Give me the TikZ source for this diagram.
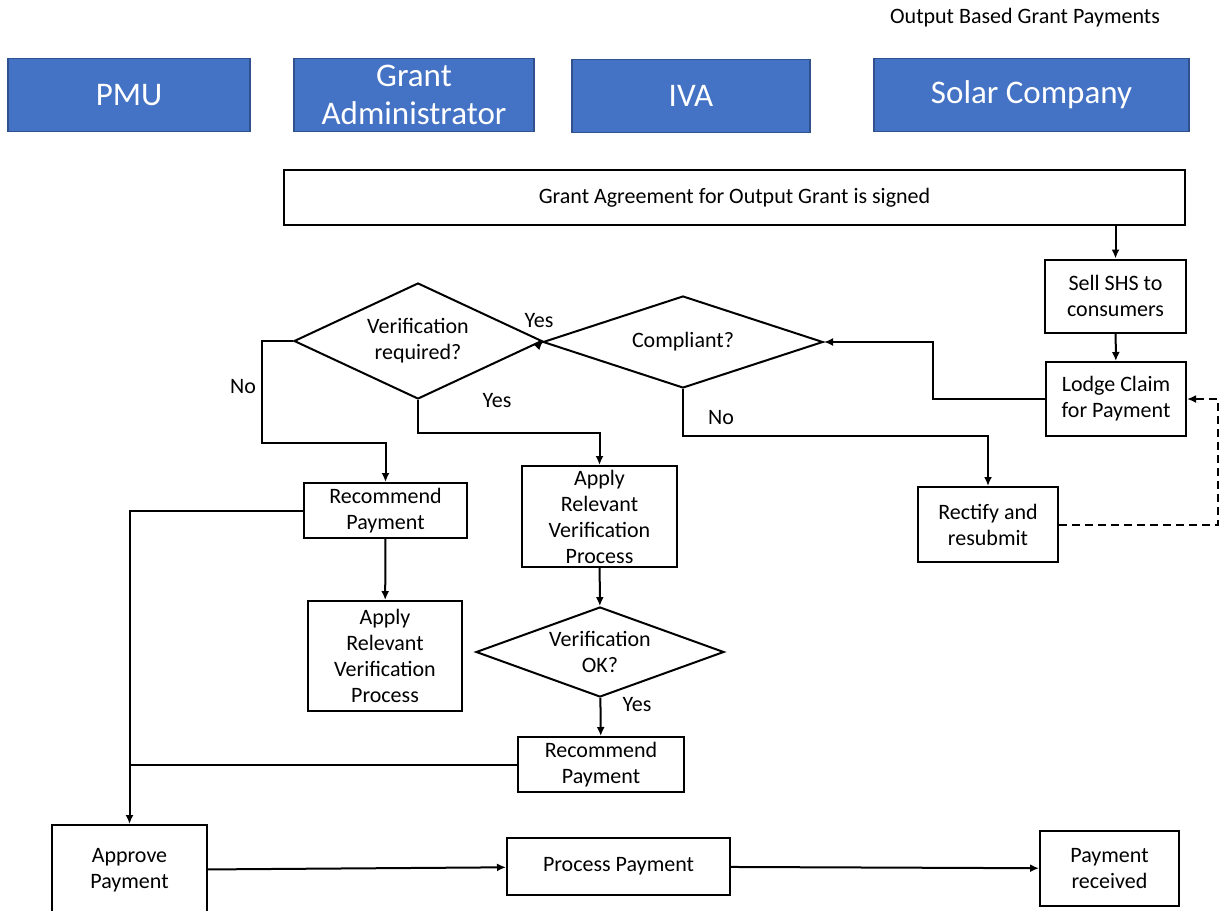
\documentclass[tikz,border=0pt]{standalone}
\usepackage{fontspec}
\setmainfont{Carlito}
\usetikzlibrary{arrows.meta}
\usetikzlibrary{shapes.geometric}
\definecolor{laneblue}{RGB}{68,114,196}
\definecolor{laneedge}{RGB}{47,82,143}

\tikzset{
  lane/.style={fill=laneblue, draw=laneedge, line width=1.5pt, text=white, inner sep=0,
    align=center, font=\fontsize{33}{38}\selectfont},
  box/.style={draw, line width=2pt, inner sep=0, align=center,
    font=\fontsize{22}{26}\selectfont},
  decision/.style={draw, diamond, aspect=3, line width=2pt, inner sep=0, align=center,
    font=\fontsize{22}{26}\selectfont},
  flow/.style={-{Latex[length=9pt,width=8pt]}, line width=2pt},
  link/.style={line width=2pt},
  answer/.style={font=\fontsize{22}{26}\selectfont}
}

\begin{document}
\begin{tikzpicture}[x=1pt, y=-1pt]
\clip (0,0) rectangle (1225,910);

% swim lane headers
\node[font=\fontsize{22}{26}\selectfont] (title) at (1025,18) {Output Based Grant Payments};
\node[lane, minimum width=242, minimum height=73] (pmu) at (129,95) {PMU};
\node[lane, minimum width=240, minimum height=73] (ga) at (414,95) {Grant\\Administrator};
\node[lane, minimum width=238, minimum height=73] (iva) at (691,96) {IVA};
\node[lane, minimum width=315, minimum height=73] (solar) at (1031.5,95) {Solar Company};

% steps
\node[box, minimum width=901, minimum height=55] (agree) at (734.5,197.5) {Grant Agreement for Output Grant is signed};
\node[box, minimum width=141, minimum height=73] (sell) at (1115.5,296) {Sell SHS to\\consumers};
\node[box, minimum width=140, minimum height=74] (lodge) at (1116,399) {Lodge Claim\\for Payment};
\node[decision, minimum width=280, minimum height=92] (comp) at (683,342) {Compliant?};
\node[decision, minimum width=248, minimum height=116] (vreq) at (418,341) {Verification\\required?};
\node[box, minimum width=140, minimum height=75] (rectify) at (988,524.5) {Rectify and\\resubmit};
\node[box, minimum width=163, minimum height=55] (rec1) at (385.5,510.5) {Recommend\\Payment};
\node[box, minimum width=154, minimum height=110] (apply1) at (385,656) {Apply\\Relevant\\Verification\\Process};
\node[box, minimum width=155, minimum height=101] (apply2) at (599.5,516.5) {Apply\\Relevant\\Verification\\Process};
\node[decision, minimum width=248, minimum height=90] (vok) at (600,652) {Verification\\OK?};
\node[box, minimum width=166, minimum height=55] (rec2) at (601,764.5) {Recommend\\Payment};
\node[box, minimum width=155, minimum height=90] (approve) at (129.5,870) {Approve\\Payment};
\node[box, minimum width=223, minimum height=57] (process) at (618.5,866.5) {Process Payment};
\node[box, minimum width=139, minimum height=75] (received) at (1109.5,868.5) {Payment\\received};

% bends
\coordinate (bendA) at (933,399);
\coordinate (bendB) at (988,436);
\coordinate (bendC) at (1218,524.5);
\coordinate (bendD) at (599.5,433);
\coordinate (bendE) at (262,443);

% connectors
\draw[flow] (agree.south -| sell.north) -- (sell.north);
\draw[flow] (sell) -- (lodge);
\draw[flow] (lodge.west) -- (bendA) |- (comp.east);
\draw[flow] (comp.west) -- (vreq.east);
\draw[flow] (comp.south) |- (bendB) -- (rectify.north);
\draw[flow, dash pattern=on 8pt off 5pt] (rectify.east) -- (bendC) |- (lodge.east);
\draw[flow] (vreq.south) |- (bendD) -- (apply2.north);
\draw[flow] (vreq.west) -| (bendE) -| (rec1.north);
\draw[flow] (rec1) -- (apply1);
\draw[flow] (apply2) -- (vok);
\draw[flow] (vok) -- (rec2);
\draw[link] (rec2.west) -- (rec2.west -| approve.north);
\draw[flow] (rec1.west) -| (approve.north);
\draw[flow] (approve) -- (process);
\draw[flow] (process) -- (received);

% answers
\node[answer] (yesA) at (539,321) {Yes};
\node[answer] (yesB) at (497,401) {Yes};
\node[answer] (noA) at (243,387) {No};
\node[answer] (noB) at (721,418) {No};
\node[answer] (yesC) at (637,705) {Yes};
\end{tikzpicture}
\end{document}
